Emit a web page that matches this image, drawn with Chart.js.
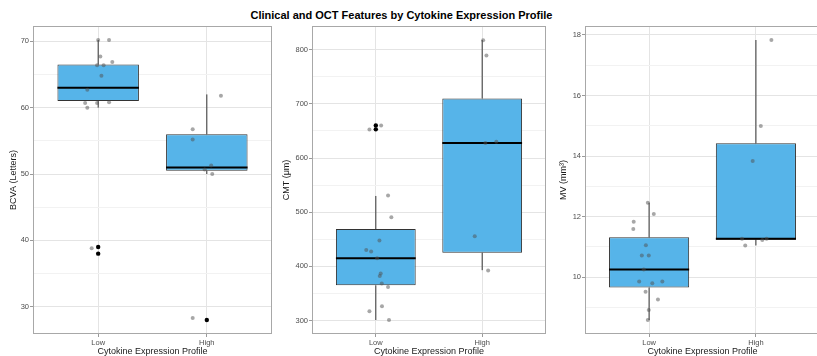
<!DOCTYPE html>
<html>
<head>
<meta charset="utf-8">
<title>Clinical and OCT Features by Cytokine Expression Profile</title>
<script src="https://cdn.jsdelivr.net/npm/chart.js@4.4.0/dist/chart.umd.min.js"></script>
<style>
  body { margin: 0; background: #fff; font-family: "Liberation Sans", Arial, sans-serif; }
  #wrap { position: relative; width: 817px; height: 356px; overflow: hidden; }
  #title { position: absolute; left: 0; top: 9px; width: 803px; text-align: center;
           font-weight: bold; font-size: 11px; line-height: 12px; color: #000; }
  canvas { position: absolute; top: 0; }
</style>
</head>
<body>
<div id="wrap">
  <div id="title">Clinical and OCT Features by Cytokine Expression Profile</div>
  <canvas id="bcvaChart" width="276" height="358" style="left:0px"></canvas>
  <canvas id="cmtChart" width="277" height="358" style="left:273px"></canvas>
  <canvas id="mvChart" width="274" height="358" style="left:550px"></canvas>
</div>
<script>
/* ================= DATA ================= */
const profiles = ["Low", "High"];

// BCVA (letters)
const bcvaQ1 = [61.0, 50.5];
const bcvaMedian = [63.0, 51.0];
const bcvaQ3 = [66.5, 56.0];
const bcvaWhiskerLow = [60.0, 50.0];
const bcvaWhiskerHigh = [70.2, 62.0];
const bcvaOutliers = [[39.0, 38.0], [28.0]];
const bcvaLowValues = [70.2, 70.2, 67.7, 66.9, 66.4, 66.4, 64.8, 62.7, 60.7, 60.7, 60.8, 60.0, 38.8];
const bcvaLowJitter = [0.0, 0.10, 0.02, 0.13, -0.01, 0.05, 0.03, -0.10, -0.12, -0.01, 0.10, -0.10, -0.06];
const bcvaHighValues = [61.8, 56.75, 55.2, 51.3, 50.7, 50.0, 28.3];
const bcvaHighJitter = [0.13, -0.13, -0.13, 0.04, -0.02, 0.05, -0.13];
const bcvaMajor = [30, 40, 50, 60, 70];
const bcvaMinor = [35, 45, 55, 65];

// CMT (µm)
const cmtQ1 = [365, 425];
const cmtMedian = [415, 628];
const cmtQ3 = [469, 710];
const cmtWhiskerLow = [301, 393];
const cmtWhiskerHigh = [530, 818];
const cmtOutliers = [[660, 653], []];
const cmtLowValues = [652.7, 660, 530.7, 490.6, 448, 430.3, 427.7, 414.8, 387, 382.3, 368.6, 362, 326.2, 317, 301];
const cmtLowJitter = [-0.06, 0.05, 0.115, 0.146, 0.034, -0.09, -0.044, 0.012, 0.046, 0.037, 0.056, 0.115, 0.058, -0.06, 0.124];
const cmtHighValues = [817.7, 789.5, 628, 630, 455.5, 392.6];
const cmtHighJitter = [0.009, 0.04, 0.03, 0.133, -0.07, 0.056];
const cmtMajor = [300, 400, 500, 600, 700, 800];
const cmtMinor = [350, 450, 550, 650, 750];

// MV (mm3)
const mvQ1 = [9.66, 11.24];
const mvMedian = [10.26, 11.27];
const mvQ3 = [11.32, 14.42];
const mvWhiskerLow = [8.59, 11.05];
const mvWhiskerHigh = [12.46, 17.83];
const mvOutliers = [[], []];
const mvLowValues = [12.46, 12.09, 11.83, 11.59, 11.06, 10.72, 10.72, 10.26, 9.86, 9.80, 9.86, 9.52, 9.27, 8.92, 8.59];
const mvLowJitter = [-0.012, 0.044, -0.144, -0.148, -0.03, -0.068, -0.003, -0.05, -0.093, 0.03, 0.124, -0.033, 0.083, -0.003, -0.012];
const mvHighValues = [17.83, 14.99, 13.84, 11.27, 11.05, 11.23, 11.27];
const mvHighJitter = [0.145, 0.046, -0.03, -0.13, -0.10, 0.06, 0.10];
const mvMajor = [10, 12, 14, 16, 18];
const mvMinor = [9, 11, 13, 15, 17];

/* ================= STYLE ================= */
const FONT = '"Liberation Sans", Arial, sans-serif';
const BOX_WIDTH = 0.75;
const BOX_FILL = "#56B4E9";
const LINE_DARK = "#333333";
const GRID_MAJOR = "#e4e4e4";
const GRID_MINOR = "#f2f2f2";
const TICK_MARK = "#9a9a9a";
const TICK_TEXT = "#4d4d4d";
const AXIS_TEXT = "#1a1a1a";

Chart.defaults.font.family = FONT;

const panelBorder = {
  id: "panelBorder",
  afterDatasetsDraw(chart) {
    const { ctx, chartArea: a } = chart;
    ctx.save();
    ctx.strokeStyle = "#a8a8a8";
    ctx.lineWidth = 1;
    ctx.strokeRect(Math.round(a.left) + 0.5, Math.round(a.top) + 0.5,
      Math.round(a.right - a.left) - 1, Math.round(a.bottom - a.top) - 1);
    ctx.restore();
  }
};

/* ================= PANEL ================= */
function drawPanel(id, p) {
  const half = BOX_WIDTH / 2;

  const boxData = profiles.map((_, i) => ({ x: i + 1, y: [p.q1[i], p.q3[i]] }));

  const whiskerData = [];
  profiles.forEach((_, i) => {
    whiskerData.push(
      { x: i + 1, y: p.wLow[i] }, { x: i + 1, y: p.q1[i] }, { x: i + 1, y: null },
      { x: i + 1, y: p.q3[i] }, { x: i + 1, y: p.wHigh[i] }, { x: i + 1, y: null }
    );
  });

  const medianData = [];
  profiles.forEach((_, i) => {
    medianData.push(
      { x: i + 1 - half, y: p.median[i] }, { x: i + 1 + half, y: p.median[i] },
      { x: i + 1, y: null }
    );
  });

  const outlierData = [];
  p.outliers.forEach((list, i) => list.forEach(v => outlierData.push({ x: i + 1, y: v })));

  const pointData = [
    ...p.lowValues.map((v, k) => ({ x: 1 + p.lowJitter[k], y: v })),
    ...p.highValues.map((v, k) => ({ x: 2 + p.highJitter[k], y: v }))
  ];

  const all = [...p.q1, ...p.q3, ...p.wLow, ...p.wHigh, ...p.outliers.flat(),
    ...p.lowValues, ...p.highValues];
  const lo = Math.min(...all), hi = Math.max(...all);
  const pad = (hi - lo) * 0.05;

  const isMajor = v => p.major.includes(v);

  return new Chart(document.getElementById(id), {
    type: "scatter",
    data: {
      datasets: [
        {
          type: "scatter", data: outlierData, order: 1,
          backgroundColor: "#000", borderWidth: 0, pointRadius: 2.2
        },
        {
          type: "scatter", data: pointData, order: 2,
          backgroundColor: "rgba(80,80,80,0.5)", borderWidth: 0, pointRadius: 2
        },
        {
          type: "line", data: medianData, order: 3,
          borderColor: "#000", borderWidth: 2, pointRadius: 0, spanGaps: false
        },
        {
          type: "bar", data: boxData, order: 4,
          backgroundColor: BOX_FILL, borderColor: LINE_DARK, borderWidth: 1,
          borderSkipped: false, barPercentage: BOX_WIDTH, categoryPercentage: 1
        },
        {
          type: "line", data: whiskerData, order: 5,
          borderColor: LINE_DARK, borderWidth: 1, pointRadius: 0, spanGaps: false
        }
      ]
    },
    options: {
      responsive: false,
      animation: false,
      layout: { padding: { top: 26, right: 1, left: 0, bottom: 0 } },
      plugins: { legend: { display: false }, tooltip: { enabled: false } },
      scales: {
        x: {
          type: "linear", min: 0.4, max: 2.6, offset: false,
          afterBuildTicks: s => { s.ticks = profiles.map((_, i) => ({ value: i + 1 })); },
          afterFit: s => { s.height = 24; },
          ticks: {
            callback: v => profiles[v - 1],
            autoSkip: false, maxRotation: 0, padding: 1,
            color: TICK_TEXT, font: { size: 7.5 }
          },
          grid: { offset: false, color: GRID_MAJOR, tickColor: TICK_MARK, tickLength: 3 },
          border: { display: false },
          title: {
            display: true, text: "Cytokine Expression Profile",
            color: AXIS_TEXT, font: { size: 9 }, padding: { top: 0, bottom: 1 }
          }
        },
        y: {
          type: "linear", min: lo - pad, max: hi + pad,
          afterBuildTicks: s => {
            s.ticks = [...p.major, ...p.minor].sort((a, b) => a - b).map(v => ({ value: v }));
          },
          afterFit: s => { s.width = p.axisWidth; },
          ticks: {
            callback: v => (isMajor(v) ? String(v) : ""),
            autoSkip: false, padding: 1,
            color: TICK_TEXT, font: { size: 7.5 }
          },
          grid: {
            color: c => (isMajor(c.tick.value) ? GRID_MAJOR : GRID_MINOR),
            tickColor: c => (isMajor(c.tick.value) ? TICK_MARK : "rgba(0,0,0,0)"),
            tickLength: 3
          },
          border: { display: false },
          title: {
            display: true, text: p.yTitle,
            color: AXIS_TEXT, font: { size: 9 }, padding: { top: 8.6, bottom: 0 }
          }
        }
      }
    },
    plugins: [panelBorder]
  });
}

/* ================= INIT ================= */
drawPanel("bcvaChart", {
  yTitle: "BCVA (Letters)", axisWidth: 33,
  q1: bcvaQ1, median: bcvaMedian, q3: bcvaQ3, wLow: bcvaWhiskerLow, wHigh: bcvaWhiskerHigh,
  outliers: bcvaOutliers,
  lowValues: bcvaLowValues, lowJitter: bcvaLowJitter,
  highValues: bcvaHighValues, highJitter: bcvaHighJitter,
  major: bcvaMajor, minor: bcvaMinor
});

drawPanel("cmtChart", {
  yTitle: "CMT (μm)", axisWidth: 39,
  q1: cmtQ1, median: cmtMedian, q3: cmtQ3, wLow: cmtWhiskerLow, wHigh: cmtWhiskerHigh,
  outliers: cmtOutliers,
  lowValues: cmtLowValues, lowJitter: cmtLowJitter,
  highValues: cmtHighValues, highJitter: cmtHighJitter,
  major: cmtMajor, minor: cmtMinor
});

drawPanel("mvChart", {
  yTitle: "MV (mm³)", axisWidth: 35,
  q1: mvQ1, median: mvMedian, q3: mvQ3, wLow: mvWhiskerLow, wHigh: mvWhiskerHigh,
  outliers: mvOutliers,
  lowValues: mvLowValues, lowJitter: mvLowJitter,
  highValues: mvHighValues, highJitter: mvHighJitter,
  major: mvMajor, minor: mvMinor
});
</script>
</body>
</html>
